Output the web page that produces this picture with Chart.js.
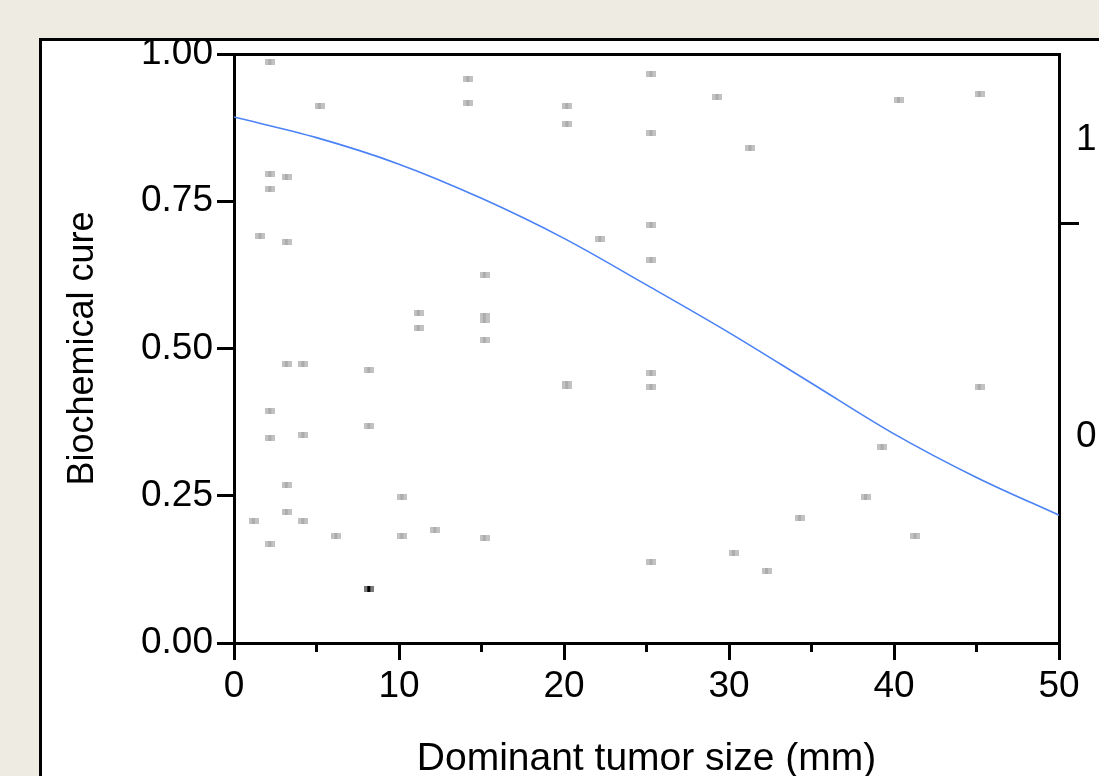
<!DOCTYPE html>
<html>
<head>
<meta charset="utf-8">
<script src="https://cdn.jsdelivr.net/npm/chart.js@4.4.0/dist/chart.umd.min.js"></script>
<style>
  html, body { margin: 0; padding: 0; background: #eeebe2; overflow: hidden; }
  #panel { position: absolute; left: 39px; top: 38px; width: 1200px; height: 900px; background: #fff; border-left: 3px solid #000; border-top: 3px solid #000; }
  #myChart { position: absolute; left: 0; top: 0; }
</style>
</head>
<body>
<div id="panel"></div>
<canvas id="myChart" width="1099" height="776"></canvas>
<script>
// observed patients (tumor size in mm, jittered position on the cure axis)
let sizeMm = [2.2, 14.2, 14.2, 5.2, 2.2, 3.2, 2.2, 1.6, 3.2, 15.2, 11.2, 15.2, 15.2, 11.2, 15.2,
    3.2, 4.2, 8.2, 2.2, 8.2, 4.2, 2.2, 3.2, 10.2, 3.2, 1.2, 4.2, 6.2, 10.2, 12.2, 15.2, 2.2,
    25.3, 29.3, 20.2, 20.2, 25.3, 31.3, 25.3, 22.2, 25.3, 25.3, 20.2, 20.2, 25.3, 25.3, 30.3, 32.3,
    45.2, 40.3, 45.2, 39.3, 38.3, 34.3, 41.3];
let cureY = [0.986, 0.958, 0.917, 0.912, 0.796, 0.791, 0.771, 0.691, 0.681, 0.625, 0.560, 0.555, 0.549, 0.535, 0.514,
    0.474, 0.474, 0.463, 0.394, 0.368, 0.353, 0.348, 0.268, 0.248, 0.222, 0.207, 0.207, 0.182, 0.182, 0.192, 0.178, 0.168,
    0.966, 0.927, 0.912, 0.881, 0.866, 0.840, 0.710, 0.686, 0.650, 0.458, 0.440, 0.436, 0.435, 0.138, 0.153, 0.122,
    0.932, 0.922, 0.435, 0.333, 0.248, 0.212, 0.182];

// the one dark marker
let darkSize = [8.2];
let darkCure = [0.092];

// logistic fit
let fitSize = [0, 5, 10, 15, 20, 25, 30, 35, 40, 45, 50];
let fitCure = [0.893, 0.858, 0.813, 0.755, 0.687, 0.608, 0.527, 0.441, 0.355, 0.281, 0.217];

// axes
let xMinorTicks = [5, 15, 25, 35, 45];
let rightTickValues = [0.35, 0.713, 0.854];
let rightTickLabels = ['0', '', '1'];

const fontFamily = '"Liberation Sans", Arial, sans-serif';
const tickFont = { family: fontFamily, size: 37 };
const titleFont = { family: fontFamily, size: 36 };

function makeMarker(light, dark) {
    const c = document.createElement('canvas');
    c.width = 10;
    c.height = 6;
    const g = c.getContext('2d');
    g.fillStyle = light;
    g.fillRect(0, 0, 10, 6);
    g.fillStyle = dark;
    g.fillRect(3, 0, 3, 6);
    return c;
}

function drawChart() {
    const ctx = document.getElementById('myChart').getContext('2d');
    new Chart(ctx, {
        type: 'scatter',
        data: {
            datasets: [{
                data: fitSize.map((x, i) => ({ x: x, y: fitCure[i] })),
                showLine: true,
                borderColor: '#4a82f5',
                borderWidth: 1.6,
                pointRadius: 0,
                cubicInterpolationMode: 'monotone',
                order: 0
            }, {
                data: sizeMm.map((x, i) => ({ x: x, y: cureY[i] })),
                pointStyle: makeMarker('#c2c2c2', '#acacac'),
                order: 1
            }, {
                data: darkSize.map((x, i) => ({ x: x, y: darkCure[i] })),
                pointStyle: makeMarker('#7a7a7a', '#000000'),
                order: 1
            }]
        },
        options: {
            responsive: false,
            animation: false,
            layout: { padding: { top: 54, left: 0, right: 0, bottom: 0 } },
            plugins: {
                legend: { display: false },
                tooltip: { enabled: false }
            },
            scales: {
                x: {
                    type: 'linear',
                    position: 'bottom',
                    weight: 1,
                    min: 0,
                    max: 50,
                    ticks: { stepSize: 10, font: tickFont, color: '#000', padding: 5, maxRotation: 0 },
                    grid: { drawOnChartArea: false, tickLength: 17, lineWidth: 3, tickWidth: 3, tickColor: '#000' },
                    border: { display: true, color: '#000', width: 3 },
                    title: {
                        display: true,
                        text: 'Dominant tumor size (mm)',
                        font: { family: fontFamily, size: 39, lineHeight: 1 },
                        color: '#000',
                        padding: { top: 0, bottom: -3 }
                    },
                    afterFit: s => { s.height = 133; }
                },
                xMinor: {
                    type: 'linear',
                    position: 'bottom',
                    weight: 0,
                    min: 0,
                    max: 50,
                    afterBuildTicks: s => { s.ticks = xMinorTicks.map(v => ({ value: v })); },
                    ticks: { display: false },
                    grid: { drawOnChartArea: false, tickLength: 9, lineWidth: 3, tickWidth: 3, tickColor: '#000' },
                    border: { display: false },
                    afterFit: s => { s.height = 0; }
                },
                xTop: {
                    type: 'linear',
                    position: 'top',
                    min: 0,
                    max: 50,
                    ticks: { display: false },
                    grid: { display: false },
                    border: { display: true, color: '#000', width: 3 },
                    afterFit: s => { s.height = 0; }
                },
                y: {
                    position: 'left',
                    min: 0,
                    max: 1,
                    ticks: { stepSize: 0.25, font: tickFont, color: '#000', padding: 4, callback: v => v.toFixed(2) },
                    grid: { drawOnChartArea: false, tickLength: 17, lineWidth: 3, tickWidth: 3, tickColor: '#000' },
                    border: { display: true, color: '#000', width: 3 },
                    title: {
                        display: true,
                        text: 'Biochemical cure',
                        font: titleFont,
                        color: '#000',
                        padding: { top: 61, bottom: 0 }
                    },
                    afterFit: s => { s.width = 234; }
                },
                yRight: {
                    position: 'right',
                    min: 0,
                    max: 1,
                    afterBuildTicks: s => { s.ticks = rightTickValues.map(v => ({ value: v })); },
                    ticks: {
                        autoSkip: false,
                        font: tickFont,
                        color: '#000',
                        padding: -3,
                        callback: (v, i) => rightTickLabels[i]
                    },
                    grid: {
                        drawOnChartArea: false,
                        tickLength: 20,
                        lineWidth: 3,
                        tickWidth: 3,
                        tickColor: c => (c.tick && c.tick.value === rightTickValues[1]) ? '#000' : 'rgba(0,0,0,0)'
                    },
                    border: { display: true, color: '#000', width: 3 },
                    afterFit: s => { s.width = 40; }
                }
            }
        }
    });
}

drawChart();
</script>
</body>
</html>
